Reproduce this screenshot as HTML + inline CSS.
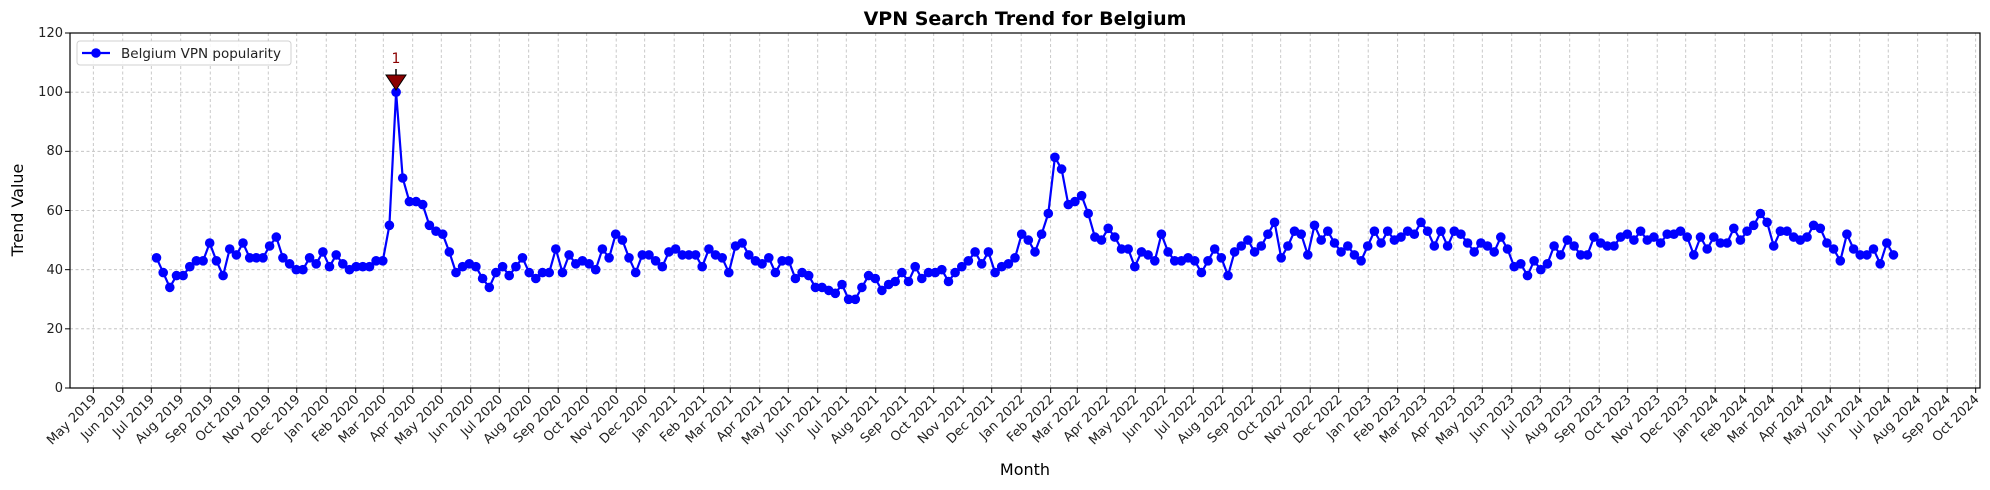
<!DOCTYPE html>
<html><head><meta charset="utf-8">
<style>
html,body{margin:0;padding:0;background:#fff;}
svg{display:block;font-family:"DejaVu Sans","Liberation Sans",sans-serif;}
</style></head>
<body>
<svg id="s" width="1990" height="490" viewBox="0 0 1990 490" xmlns="http://www.w3.org/2000/svg">
<rect width="1990" height="490" fill="#fff"/>
<g id="grid" stroke="#b0b0b0" stroke-width="0.8" stroke-dasharray="3,2.5" opacity="0.85"></g>
<g id="ticks" stroke="#000" stroke-width="1"></g>
<g id="series"></g>
<rect x="70" y="33" width="1910" height="355" fill="none" stroke="#000" stroke-width="1.2"/>
<g font-size="13" fill="#222" text-anchor="end">
<text x="63" y="392">0</text>
<text x="63" y="333">20</text>
<text x="63" y="274">40</text>
<text x="63" y="215">60</text>
<text x="63" y="155">80</text>
<text x="63" y="96">100</text>
<text x="63" y="37">120</text>
</g>
<g id="xl" font-size="13" fill="#222" text-anchor="end">
<text>May 2019</text><text>Jun 2019</text><text>Jul 2019</text><text>Aug 2019</text><text>Sep 2019</text><text>Oct 2019</text><text>Nov 2019</text><text>Dec 2019</text>
<text>Jan 2020</text><text>Feb 2020</text><text>Mar 2020</text><text>Apr 2020</text><text>May 2020</text><text>Jun 2020</text><text>Jul 2020</text><text>Aug 2020</text><text>Sep 2020</text><text>Oct 2020</text><text>Nov 2020</text><text>Dec 2020</text>
<text>Jan 2021</text><text>Feb 2021</text><text>Mar 2021</text><text>Apr 2021</text><text>May 2021</text><text>Jun 2021</text><text>Jul 2021</text><text>Aug 2021</text><text>Sep 2021</text><text>Oct 2021</text><text>Nov 2021</text><text>Dec 2021</text>
<text>Jan 2022</text><text>Feb 2022</text><text>Mar 2022</text><text>Apr 2022</text><text>May 2022</text><text>Jun 2022</text><text>Jul 2022</text><text>Aug 2022</text><text>Sep 2022</text><text>Oct 2022</text><text>Nov 2022</text><text>Dec 2022</text>
<text>Jan 2023</text><text>Feb 2023</text><text>Mar 2023</text><text>Apr 2023</text><text>May 2023</text><text>Jun 2023</text><text>Jul 2023</text><text>Aug 2023</text><text>Sep 2023</text><text>Oct 2023</text><text>Nov 2023</text><text>Dec 2023</text>
<text>Jan 2024</text><text>Feb 2024</text><text>Mar 2024</text><text>Apr 2024</text><text>May 2024</text><text>Jun 2024</text><text>Jul 2024</text><text>Aug 2024</text><text>Sep 2024</text><text>Oct 2024</text>
</g>
<text x="1025" y="25" font-size="19" font-weight="bold" text-anchor="middle" fill="#000">VPN Search Trend for Belgium</text>
<text x="1025" y="475" font-size="16" text-anchor="middle" fill="#000">Month</text>
<text x="0" y="0" font-size="16" text-anchor="middle" fill="#000" transform="translate(23,210) rotate(-90)">Trend Value</text>
<!-- annotation -->
<line x1="396" y1="69" x2="396" y2="76" stroke="#000" stroke-width="1.5"/>
<polygon points="386,75 406,75 396,90" fill="#8b0000" stroke="#000" stroke-width="1"/>
<text x="396" y="63" font-size="14" text-anchor="middle" fill="#8b0000">1</text>
<!-- legend -->
<rect x="77" y="41" width="214" height="24" rx="3" fill="#fff" stroke="#ccc" stroke-width="1" opacity="0.9"/>
<line x1="82" y1="53" x2="110" y2="53" stroke="#0000ff" stroke-width="2.2"/>
<circle cx="96" cy="53" r="4.8" fill="#0000ff"/>
<text x="121" y="58" font-size="13.5" fill="#222">Belgium VPN popularity</text>
</svg>
<script>
(function(){
var NS="http://www.w3.org/2000/svg";
var days=[0,31,61,92,123,153,184,214,245,276,305,336,366,397,427,458,489,519,550,580,611,642,670,701,731,762,792,823,854,884,915,945,976,1007,1035,1066,1096,1127,1157,1188,1219,1249,1280,1310,1341,1372,1400,1431,1461,1492,1522,1553,1584,1614,1645,1675,1706,1737,1766,1797,1827,1858,1888,1919,1950,1980];
var grid=document.getElementById('grid'),ticks=document.getElementById('ticks');
var labels=document.getElementById('xl').getElementsByTagName('text');
function el(n,a,p){var e=document.createElementNS(NS,n);for(var k in a)e.setAttribute(k,a[k]);p.appendChild(e);return e;}
for(var i=0;i<days.length;i++){
 var x=93.3+days[i]*0.9507;
 el('line',{x1:x,y1:33,x2:x,y2:388},grid);
 el('line',{x1:x,y1:388,x2:x,y2:393},ticks);
 if(labels[i]){labels[i].setAttribute('x',x+4);labels[i].setAttribute('y',400);labels[i].setAttribute('transform','rotate(-45 '+(x+4)+' 400)');}
}
for(var v=20;v<=100;v+=20){var y=388-v*2.9583;el('line',{x1:70,y1:y,x2:1980,y2:y},grid);}
for(var v=0;v<=120;v+=20){var y=388-v*2.9583;el('line',{x1:65,y1:y,x2:70,y2:y},ticks);}
var d=[44,39,34,38,38,41,43,43,49,43,38,47,45,49,44,44,44,48,51,44,42,40,40,44,42,46,41,45,42,40,41,41,41,43,43,55,100,71,63,63,62,55,53,52,46,39,41,42,41,37,34,39,41,38,41,44,39,37,39,39,47,39,45,42,43,42,40,47,44,52,50,44,39,45,45,43,41,46,47,45,45,45,41,47,45,44,39,48,49,45,43,42,44,39,43,43,37,39,38,34,34,33,32,35,30,30,34,38,37,33,35,36,39,36,41,37,39,39,40,36,39,41,43,46,42,46,39,41,42,44,52,50,46,52,59,78,74,62,63,65,59,51,50,54,51,47,47,41,46,45,43,52,46,43,43,44,43,39,43,47,44,38,46,48,50,46,48,52,56,44,48,53,52,45,55,50,53,49,46,48,45,43,48,53,49,53,50,51,53,52,56,53,48,53,48,53,52,49,46,49,48,46,51,47,41,42,38,43,40,42,48,45,50,48,45,45,51,49,48,48,51,52,50,53,50,51,49,52,52,53,51,45,51,47,51,49,49,54,50,53,55,59,56,48,53,53,51,50,51,55,54,49,47,43,52,47,45,45,47,42,49,45];
var s=document.getElementById('series'),pts=[],n=d.length;
for(var i=0;i<n;i++){var x=156.5+i*(1893.5-156.5)/(n-1),y=388-d[i]*2.9583;pts.push(x.toFixed(1)+','+y.toFixed(1));}
el('polyline',{points:pts.join(' '),fill:'none',stroke:'#0000ff','stroke-width':2.2,'stroke-linejoin':'round'},s);
for(var i=0;i<n;i++){var p=pts[i].split(',');el('circle',{cx:p[0],cy:p[1],r:4.8,fill:'#0000ff'},s);}
})();
</script>
</body></html>
